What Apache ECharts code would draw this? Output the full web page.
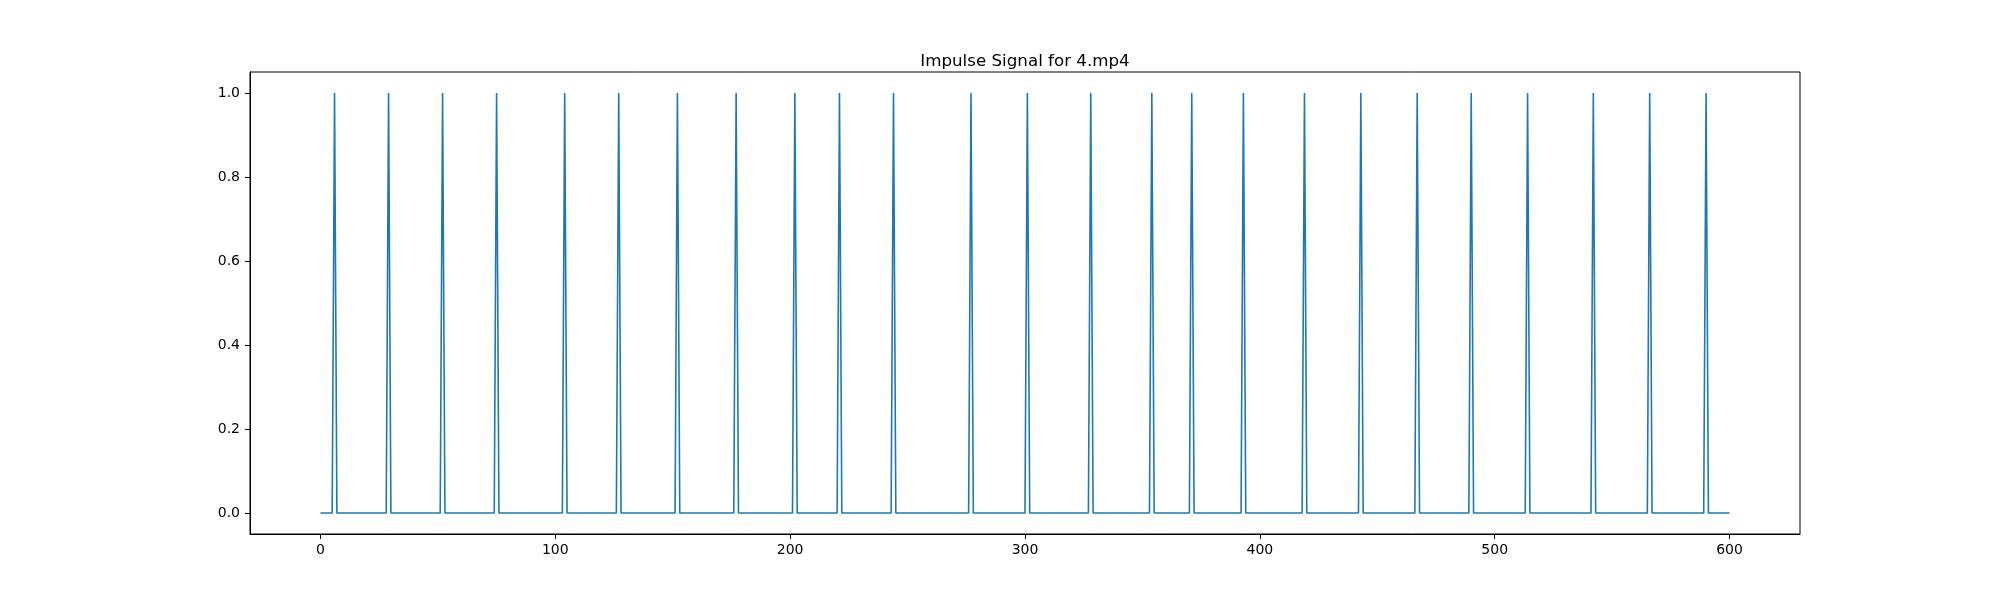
<!DOCTYPE html>
<html>
<head>
<meta charset="utf-8">
<script src="https://cdn.jsdelivr.net/npm/echarts@6/dist/echarts.min.js"></script>
<style>
  html, body { margin: 0; padding: 0; background: #fff; }
  #chart { width: 2000px; height: 600px; }
</style>
</head>
<body>
<div id="chart"></div>
<script>
// frames where the impulse fires (value 1), everything else is 0
const spikeFrames = [6, 29, 52, 75, 104, 127, 152, 177, 202, 221, 244, 277, 301, 328,
  354, 371, 393, 419, 443, 467, 490, 514, 542, 566, 590]
const firstFrame = 0
const lastFrame = 600
const xTicks = [0, 100, 200, 300, 400, 500, 600]
const yTicks = [0, 0.2, 0.4, 0.6, 0.8, 1.0]

// build the line: flat at 0, one-frame spike up to 1
const signal = [[firstFrame, 0]]
spikeFrames.forEach((f) => {
  signal.push([f - 1, 0])
  signal.push([f, 1])
  signal.push([f + 1, 0])
})
signal.push([lastFrame, 0])

const myChart = echarts.init(document.getElementById('chart'))

const font = 'DejaVu Sans'

const myOption = {
  backgroundColor: '#ffffff',
  animation: false,
  title: {
    text: 'Impulse Signal for 4.mp4',
    left: 1020,
    top: 48,
    textAlign: 'center',
    textStyle: {
      color: '#000',
      fontSize: 16.7,
      fontWeight: 'normal',
      fontFamily: font
    }
  },
  grid: {
    left: 250,
    right: 200,
    top: 72,
    bottom: 66,
    show: true,
    borderColor: '#000',
    borderWidth: 1
  },
  xAxis: {
    type: 'value',
    min: -30,
    max: 630,
    axisLine: { show: true, onZero: false, lineStyle: { color: '#000', width: 1 } },
    axisTick: { show: true, length: 5, customValues: xTicks, lineStyle: { color: '#000' } },
    axisLabel: {
      customValues: xTicks,
      margin: 9,
      color: '#000',
      fontSize: 14,
      fontFamily: font
    },
    splitLine: { show: false }
  },
  yAxis: {
    type: 'value',
    min: -0.05,
    max: 1.05,
    axisLine: { show: true, onZero: false, lineStyle: { color: '#000', width: 1 } },
    axisTick: { show: true, length: 5, customValues: yTicks, lineStyle: { color: '#000' } },
    axisLabel: {
      customValues: yTicks,
      margin: 10,
      color: '#000',
      fontSize: 14,
      fontFamily: font,
      formatter: (v) => v.toFixed(1)
    },
    splitLine: { show: false }
  },
  series: [
    {
      type: 'line',
      data: signal,
      showSymbol: false,
      symbol: 'none',
      lineStyle: { color: '#1f77b4', width: 1.6 }
    }
  ]
}
myChart.setOption(myOption)
</script>
</body>
</html>
